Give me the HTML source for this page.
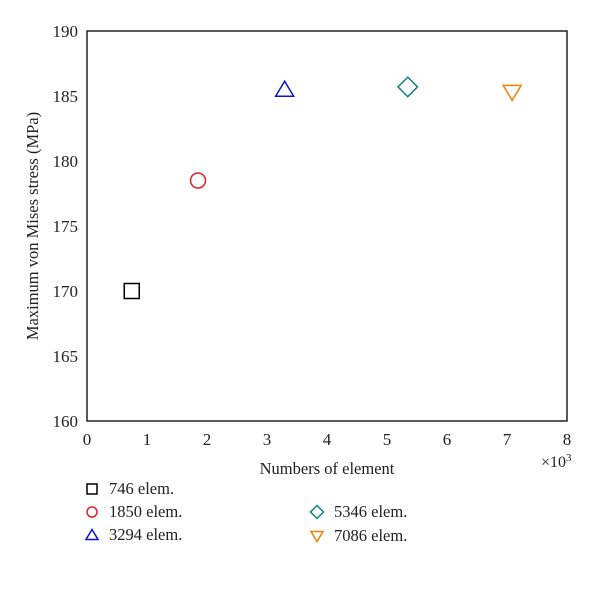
<!DOCTYPE html>
<html><head><meta charset="utf-8"><style>
body{margin:0;background:#fff;}
svg text{font-family:"Liberation Serif",serif;fill:#222;}
</style></head><body>
<svg width="600" height="595">
<g id="axes"></g><g id="marks"></g><g id="legend"></g>
</svg>
<script>
const categories=["746 elem.","1850 elem.","3294 elem.","5346 elem.","7086 elem."];
const xValues=[0.746,1.850,3.294,5.346,7.086];
const yValues=[170.0,178.5,185.5,185.7,185.3];
const xTicks=[0,1,2,3,4,5,6,7,8];
const yTicks=[160,165,170,175,180,185,190];
const colors=["#000","#e02020","#1010d0","#108080","#f08000"];
const shapes=["square","circle","up","diamond","down"];
const L=87,R=567,T=31,B=421;
const sx=v=>L+(v-0)/(8-0)*(R-L);
const sy=v=>B-(v-160)/(190-160)*(B-T);
const NS="http://www.w3.org/2000/svg";
function mk(t,a,p){const e=document.createElementNS(NS,t);for(const k in a)e.setAttribute(k,a[k]);p.appendChild(e);return e;}
const ax=document.getElementById('axes');
const frame=mk('rect',{x:L,y:T,width:R-L,height:B-T,fill:'none',stroke:'#222','stroke-width':1.5},ax);


xTicks.forEach(v=>{const t=mk('text',{x:sx(v),y:B+24,'text-anchor':'middle','font-size':17},ax);t.textContent=v;

});
yTicks.forEach(v=>{const t=mk('text',{x:L-9,y:sy(v)+6,'text-anchor':'end','font-size':17},ax);t.textContent=v;

});
let t=mk('text',{x:327,y:474,'text-anchor':'middle','font-size':16.5},ax);t.textContent='Numbers of element';


t=mk('text',{x:541,y:467,'font-size':16},ax);t.innerHTML='×10<tspan dy="-6" font-size="11">3</tspan>';


t=mk('text',{x:38,y:226,'text-anchor':'middle','font-size':16.5,transform:'rotate(-90 38 226)'},ax);t.textContent='Maximum von Mises stress (MPa)';


function marker(shape,cx,cy,c,s,p){
 let e;
 if(shape==='square')e=mk('rect',{x:cx-s,y:cy-s,width:2*s,height:2*s},p);
 else if(shape==='circle')e=mk('circle',{cx:cx,cy:cy,r:s},p);
 else if(shape==='up')e=mk('polygon',{points:`${cx},${cy-s*1.1} ${cx-s*1.2},${cy+s*0.9} ${cx+s*1.2},${cy+s*0.9}`},p);
 else if(shape==='down')e=mk('polygon',{points:`${cx},${cy+s*1.1} ${cx-s*1.2},${cy-s*0.9} ${cx+s*1.2},${cy-s*0.9}`},p);
 else e=mk('polygon',{points:`${cx},${cy-s*1.3} ${cx+s*1.3},${cy} ${cx},${cy+s*1.3} ${cx-s*1.3},${cy}`},p);
 e.setAttribute('fill','none');e.setAttribute('stroke',c);e.setAttribute('stroke-width',1.5);return e;
}
const mg=document.getElementById('marks');
xValues.forEach((x,i)=>{const e=marker(shapes[i],sx(x),sy(yValues[i]),colors[i],7.5,mg);

});
const lg=document.getElementById('legend');
const pos=[[92,489],[92,512],[92,535],[317,512],[317,536]];
categories.forEach((c,i)=>{const g=mk('g',{},lg);


marker(shapes[i],pos[i][0],pos[i][1],colors[i],5,g);
const tt=mk('text',{x:pos[i][0]+17,y:pos[i][1]+5,'font-size':16.5},g);tt.textContent=c;});
</script>
</body></html>
